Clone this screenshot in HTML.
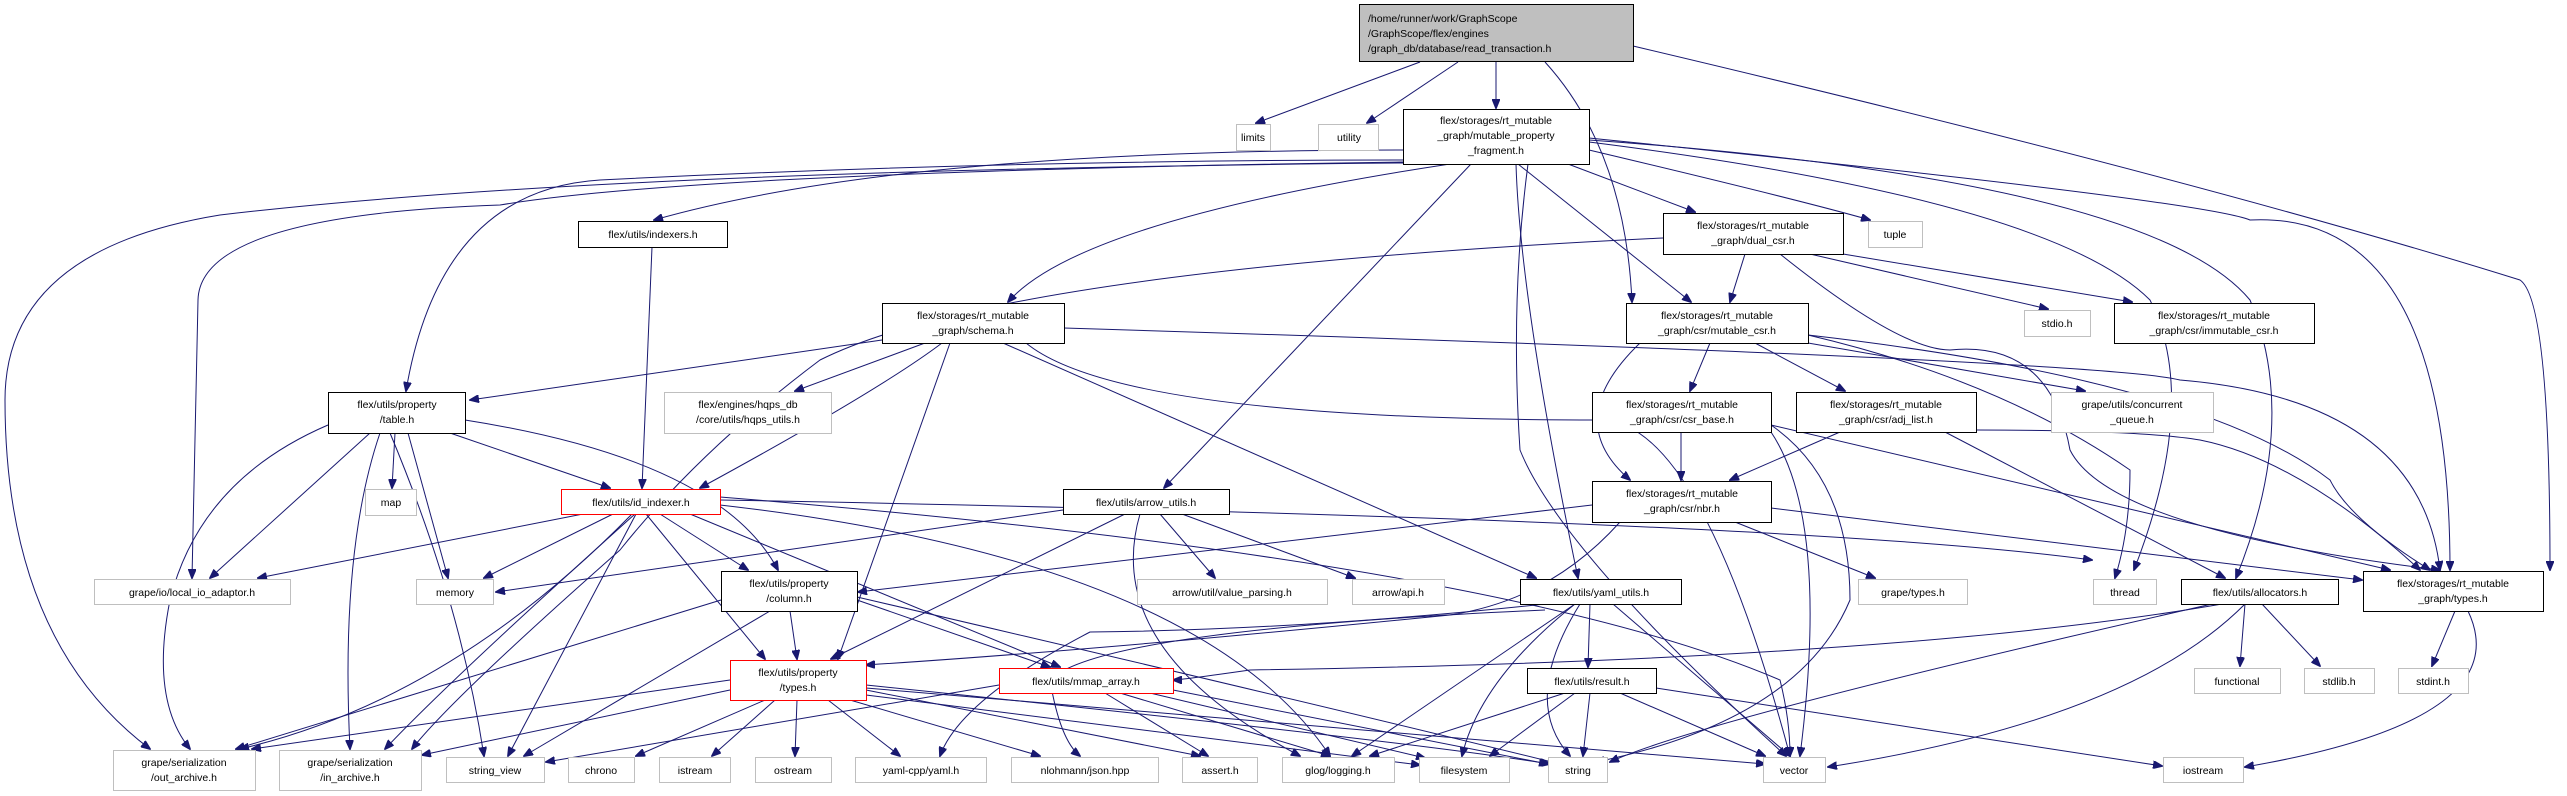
<!DOCTYPE html>
<html><head><meta charset="utf-8"><style>
html,body{margin:0;padding:0;background:#fff;}
svg{display:block;}
text{font-family:"Liberation Sans",sans-serif;font-size:10.5px;fill:#000;}
.e{fill:none;stroke:#191970;stroke-width:1;}
.n{fill:#fff;stroke:#000;stroke-width:1;}
.g{fill:#fff;stroke:#bfbfbf;stroke-width:1;}
.r{fill:#fff;stroke:#ff0000;stroke-width:1;}
</style></head><body>
<svg width="2567" height="796" viewBox="0 0 2567 796" xmlns="http://www.w3.org/2000/svg">
<defs><marker id="a" markerWidth="10" markerHeight="8" refX="9" refY="4" orient="auto" markerUnits="userSpaceOnUse"><path d="M0,0 L10,4 L0,8 z" fill="#191970" stroke="#191970"/></marker></defs>
<g class="e" marker-end="url(#a)">
<path d="M1420,62 L1256,123"/>
<path d="M1458,62 L1367,123"/>
<path d="M1496,62 L1496,108"/>
<path d="M1545,62 Q1625,150 1632,302"/>
<path d="M1633,46 Q2200,180 2520,280 Q2550,300 2550,570"/>
<path d="M1403,150 Q900,150 654,220"/>
<path d="M1450,164 Q1080,220 1008,302"/>
<path d="M1403,160 Q1000,160 600,180 Q440,190 406,391"/>
<path d="M1403,162 Q700,172 500,205 Q200,215 198,300 L192,578"/>
<path d="M1403,163 Q600,170 220,215 Q5,250 5,400 Q5,640 150,749"/>
<path d="M1471,164 L1164,488"/>
<path d="M1516,164 Q1520,300 1578,578"/>
<path d="M1528,164 Q1510,300 1520,450 Q1560,550 1786,756"/>
<path d="M1518,164 L1691,302"/>
<path d="M1568,164 L1695,212"/>
<path d="M1589,150 Q1800,200 1870,220"/>
<path d="M1589,142 Q2050,200 2150,300 Q2200,400 2134,570"/>
<path d="M1589,140 Q2150,180 2250,300 Q2300,420 2236,578"/>
<path d="M1589,138 Q2200,200 2250,220 Q2450,210 2450,570"/>
<path d="M1663,238 Q1000,270 820,360 Q700,450 620,550 Q450,700 412,749"/>
<path d="M1745,254 L1730,302"/>
<path d="M1810,254 L2048,309"/>
<path d="M1843,254 L2132,302"/>
<path d="M1780,254 Q1900,350 1950,350 Q2050,340 2070,450 Q2110,530 2440,570"/>
<path d="M1710,343 L1690,391"/>
<path d="M1755,343 L1845,391"/>
<path d="M1808,343 L2085,391"/>
<path d="M1640,343 Q1560,420 1630,480"/>
<path d="M1808,335 Q2000,380 2130,470 Q2130,530 2115,578"/>
<path d="M1808,335 Q2200,380 2330,480 Q2350,520 2430,570"/>
<path d="M882,340 L470,400"/>
<path d="M925,343 L795,391"/>
<path d="M942,343 Q880,390 700,488"/>
<path d="M950,343 L838,659"/>
<path d="M1003,343 L1536,578"/>
<path d="M1026,343 Q1120,420 1600,420 Q1700,420 1790,756"/>
<path d="M1064,328 Q2100,360 2180,380 Q2420,400 2440,570"/>
<path d="M450,433 L610,488"/>
<path d="M395,433 L392,488"/>
<path d="M408,433 L448,578"/>
<path d="M370,433 L210,578"/>
<path d="M328,425 Q200,480 170,600 Q150,700 190,749"/>
<path d="M380,433 Q340,550 350,749"/>
<path d="M390,433 Q460,600 484,756"/>
<path d="M465,420 Q720,460 778,570"/>
<path d="M652,247 L642,488"/>
<path d="M583,514 L258,578"/>
<path d="M613,514 L484,578"/>
<path d="M660,514 L748,570"/>
<path d="M646,514 L765,659"/>
<path d="M690,514 L1060,667"/>
<path d="M632,514 Q450,700 240,749"/>
<path d="M635,514 Q450,680 385,749"/>
<path d="M636,514 L508,756"/>
<path d="M720,505 Q1200,560 1330,756"/>
<path d="M720,500 Q1800,520 2092,560"/>
<path d="M720,497 Q1500,560 1780,680 Q1790,720 1790,756"/>
<path d="M1063,510 L496,592"/>
<path d="M1125,514 L831,659"/>
<path d="M1140,514 Q1100,650 1300,756"/>
<path d="M1160,514 L1215,578"/>
<path d="M1182,514 L1355,578"/>
<path d="M790,611 L797,659"/>
<path d="M857,600 L1050,667"/>
<path d="M721,600 L236,749"/>
<path d="M770,611 L524,756"/>
<path d="M857,597 Q1300,700 1560,764"/>
<path d="M1681,432 L1681,480"/>
<path d="M1771,432 Q1830,520 1800,756"/>
<path d="M1771,425 Q1850,480 1850,600 Q1800,720 1596,762"/>
<path d="M1771,425 L2390,570"/>
<path d="M1840,432 L1730,480"/>
<path d="M1945,432 L2225,578"/>
<path d="M1976,430 Q2140,430 2200,440 Q2300,460 2420,570"/>
<path d="M1592,505 L858,592"/>
<path d="M1620,522 Q1550,600 1450,615 Q1100,650 866,665"/>
<path d="M1735,522 L1875,578"/>
<path d="M1771,508 L2362,580"/>
<path d="M1545,604 Q1300,630 1090,632 Q960,700 940,756"/>
<path d="M1590,604 L1588,667"/>
<path d="M1575,604 L1352,756"/>
<path d="M1575,604 Q1480,680 1462,756"/>
<path d="M1580,604 Q1520,700 1570,756"/>
<path d="M1613,604 L1790,756"/>
<path d="M1545,610 Q1100,630 1050,680 Q1060,740 1080,756"/>
<path d="M2222,604 Q1900,660 1250,670 Q1180,680 1173,680"/>
<path d="M2245,604 L2240,666"/>
<path d="M2262,604 L2320,666"/>
<path d="M2212,604 Q1700,720 1610,762"/>
<path d="M2245,604 Q2130,720 1828,767"/>
<path d="M2455,611 L2432,666"/>
<path d="M2468,611 Q2520,720 2245,767"/>
<path d="M730,680 L252,749"/>
<path d="M730,690 L422,755"/>
<path d="M765,700 L636,756"/>
<path d="M775,700 L712,756"/>
<path d="M797,700 L795,756"/>
<path d="M828,700 L900,756"/>
<path d="M850,700 L1040,756"/>
<path d="M866,690 L1200,756"/>
<path d="M866,685 Q1400,740 1550,764"/>
<path d="M866,688 L1765,764"/>
<path d="M866,695 L1420,765"/>
<path d="M999,685 L546,762"/>
<path d="M1105,693 L1208,756"/>
<path d="M1120,693 L1330,756"/>
<path d="M1150,693 L1425,758"/>
<path d="M1173,690 L1548,764"/>
<path d="M1565,693 L1370,756"/>
<path d="M1575,693 L1490,756"/>
<path d="M1590,693 L1583,756"/>
<path d="M1620,693 L1765,756"/>
<path d="M1656,688 L2162,766"/>
</g>
<rect x="1359.5" y="4.5" width="274" height="57" fill="#bfbfbf" stroke="#000"/>
<text x="1368" y="22">/home/runner/work/GraphScope</text>
<text x="1368" y="37">/GraphScope/flex/engines</text>
<text x="1368" y="52">/graph_db/database/read_transaction.h</text>
<g text-anchor="middle">
<rect class="g" x="1236.5" y="124.5" width="34" height="26"/><text x="1253" y="141">limits</text>
<rect class="g" x="1318.5" y="124.5" width="60" height="26"/><text x="1349" y="141">utility</text>
<rect class="n" x="1403.5" y="109.5" width="186" height="55"/><text x="1496" y="124">flex/storages/rt_mutable</text><text x="1496" y="139">_graph/mutable_property</text><text x="1496" y="154">_fragment.h</text>
<rect class="n" x="578.5" y="221.5" width="149" height="26"/><text x="653" y="238">flex/utils/indexers.h</text>
<rect class="n" x="1663.5" y="213.5" width="180" height="41"/><text x="1753" y="229">flex/storages/rt_mutable</text><text x="1753" y="244">_graph/dual_csr.h</text>
<rect class="g" x="1868.5" y="221.5" width="54" height="26"/><text x="1895" y="238">tuple</text>
<rect class="n" x="882.5" y="303.5" width="182" height="40"/><text x="973" y="319">flex/storages/rt_mutable</text><text x="973" y="334">_graph/schema.h</text>
<rect class="n" x="1626.5" y="303.5" width="182" height="40"/><text x="1717" y="319">flex/storages/rt_mutable</text><text x="1717" y="334">_graph/csr/mutable_csr.h</text>
<rect class="g" x="2024.5" y="310.5" width="66" height="26"/><text x="2057" y="327">stdio.h</text>
<rect class="n" x="2114.5" y="303.5" width="200" height="40"/><text x="2214" y="319">flex/storages/rt_mutable</text><text x="2214" y="334">_graph/csr/immutable_csr.h</text>
<rect class="n" x="328.5" y="392.5" width="137" height="41"/><text x="397" y="408">flex/utils/property</text><text x="397" y="423">/table.h</text>
<rect class="g" x="664.5" y="392.5" width="167" height="41"/><text x="748" y="408">flex/engines/hqps_db</text><text x="748" y="423">/core/utils/hqps_utils.h</text>
<rect class="n" x="1592.5" y="392.5" width="179" height="40"/><text x="1682" y="408">flex/storages/rt_mutable</text><text x="1682" y="423">_graph/csr/csr_base.h</text>
<rect class="n" x="1796.5" y="392.5" width="180" height="40"/><text x="1886" y="408">flex/storages/rt_mutable</text><text x="1886" y="423">_graph/csr/adj_list.h</text>
<rect class="g" x="2051.5" y="392.5" width="162" height="40"/><text x="2132" y="408">grape/utils/concurrent</text><text x="2132" y="423">_queue.h</text>
<rect class="n" x="1592.5" y="481.5" width="179" height="41"/><text x="1682" y="497">flex/storages/rt_mutable</text><text x="1682" y="512">_graph/csr/nbr.h</text>
<rect class="g" x="365.5" y="489.5" width="51" height="26"/><text x="391" y="506">map</text>
<rect class="r" x="561.5" y="489.5" width="159" height="25"/><text x="641" y="506">flex/utils/id_indexer.h</text>
<rect class="n" x="1063.5" y="489.5" width="166" height="25"/><text x="1146" y="506">flex/utils/arrow_utils.h</text>
<rect class="g" x="94.5" y="579.5" width="196" height="25"/><text x="192" y="596">grape/io/local_io_adaptor.h</text>
<rect class="g" x="416.5" y="579.5" width="77" height="25"/><text x="455" y="596">memory</text>
<rect class="n" x="721.5" y="571.5" width="136" height="40"/><text x="789" y="587">flex/utils/property</text><text x="789" y="602">/column.h</text>
<rect class="g" x="1137.5" y="579.5" width="190" height="25"/><text x="1232" y="596">arrow/util/value_parsing.h</text>
<rect class="g" x="1352.5" y="579.5" width="92" height="25"/><text x="1398" y="596">arrow/api.h</text>
<rect class="n" x="1520.5" y="579.5" width="161" height="25"/><text x="1601" y="596">flex/utils/yaml_utils.h</text>
<rect class="g" x="1858.5" y="579.5" width="109" height="25"/><text x="1913" y="596">grape/types.h</text>
<rect class="g" x="2093.5" y="579.5" width="63" height="25"/><text x="2125" y="596">thread</text>
<rect class="n" x="2181.5" y="579.5" width="157" height="25"/><text x="2260" y="596">flex/utils/allocators.h</text>
<rect class="n" x="2363.5" y="571.5" width="180" height="40"/><text x="2453" y="587">flex/storages/rt_mutable</text><text x="2453" y="602">_graph/types.h</text>
<rect class="r" x="730.5" y="660.5" width="136" height="40"/><text x="798" y="676">flex/utils/property</text><text x="798" y="691">/types.h</text>
<rect class="r" x="999.5" y="668.5" width="174" height="25"/><text x="1086" y="685">flex/utils/mmap_array.h</text>
<rect class="n" x="1527.5" y="668.5" width="129" height="25"/><text x="1592" y="685">flex/utils/result.h</text>
<rect class="g" x="2194.5" y="668.5" width="86" height="25"/><text x="2237" y="685">functional</text>
<rect class="g" x="2304.5" y="668.5" width="70" height="25"/><text x="2339" y="685">stdlib.h</text>
<rect class="g" x="2398.5" y="668.5" width="70" height="25"/><text x="2433" y="685">stdint.h</text>
<rect class="g" x="113.5" y="750.5" width="142" height="40"/><text x="184" y="766">grape/serialization</text><text x="184" y="781">/out_archive.h</text>
<rect class="g" x="279.5" y="750.5" width="142" height="40"/><text x="350" y="766">grape/serialization</text><text x="350" y="781">/in_archive.h</text>
<rect class="g" x="446.5" y="757.5" width="98" height="25"/><text x="495" y="774">string_view</text>
<rect class="g" x="568.5" y="757.5" width="66" height="25"/><text x="601" y="774">chrono</text>
<rect class="g" x="659.5" y="757.5" width="71" height="25"/><text x="695" y="774">istream</text>
<rect class="g" x="755.5" y="757.5" width="76" height="25"/><text x="793" y="774">ostream</text>
<rect class="g" x="855.5" y="757.5" width="131" height="25"/><text x="921" y="774">yaml-cpp/yaml.h</text>
<rect class="g" x="1011.5" y="757.5" width="147" height="25"/><text x="1085" y="774">nlohmann/json.hpp</text>
<rect class="g" x="1182.5" y="757.5" width="75" height="25"/><text x="1220" y="774">assert.h</text>
<rect class="g" x="1282.5" y="757.5" width="112" height="25"/><text x="1338" y="774">glog/logging.h</text>
<rect class="g" x="1419.5" y="757.5" width="90" height="25"/><text x="1464" y="774">filesystem</text>
<rect class="g" x="1548.5" y="757.5" width="59" height="25"/><text x="1578" y="774">string</text>
<rect class="g" x="1763.5" y="757.5" width="62" height="25"/><text x="1794" y="774">vector</text>
<rect class="g" x="2163.5" y="757.5" width="80" height="25"/><text x="2203" y="774">iostream</text>
</g>
</svg>
</body></html>
